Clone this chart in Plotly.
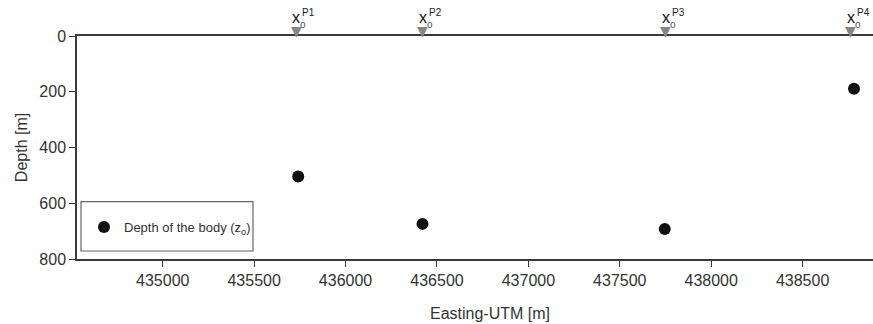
import plotly.graph_objects as go

# Data
easting = [435741, 436421, 437746, 438781]
depth = [504, 674, 692, 189]
station_x = [435731, 436421, 437752, 438763]
station_labels = ["P1", "P2", "P3", "P4"]
x_ticks = [435000, 435500, 436000, 436500, 437000, 437500, 438000, 438500]
y_ticks = [0, 200, 400, 600, 800]

W, H = 873, 324
ML, MT, MB, MR = 77, 36, 65, 0
x_range = [434531, 438885]
y_range = [800, 0]
plot_h = H - MT - MB

FONT = "Liberation Sans, Arial, sans-serif"
AX = "#3a3a3a"

fig = go.Figure()

fig.add_trace(go.Scatter(
    x=easting, y=depth, mode="markers",
    marker=dict(color="#111111", size=12),
    name="Depth of the body (z<sub>o</sub>)",
    showlegend=True,
))

annotations = []
for sx, lab in zip(station_x, station_labels):
    annotations.append(dict(x=sx, y=0, xref="x", yref="y", text="▼",
                            showarrow=False, font=dict(family="DejaVu Sans", size=14, color="#858585"),
                            xanchor="center", yanchor="middle", yshift=5))
    annotations.append(dict(x=sx, y=0, xref="x", yref="y", text="x",
                            showarrow=False, font=dict(family=FONT, size=16, color="#111"),
                            xanchor="center", yanchor="middle", yshift=19, xshift=0))
    annotations.append(dict(x=sx, y=0, xref="x", yref="y", text=lab,
                            showarrow=False, font=dict(family=FONT, size=10, color="#222"),
                            xanchor="left", yanchor="middle", yshift=24, xshift=4))
    annotations.append(dict(x=sx, y=0, xref="x", yref="y", text="o",
                            showarrow=False, font=dict(family=FONT, size=10, color="#555"),
                            xanchor="left", yanchor="middle", yshift=12, xshift=2))

annotations.append(dict(x=(490 - ML) / (W - ML - MR), y=(H - MB - 313) / plot_h,
                        xref="paper", yref="paper", text="Easting-UTM [m]",
                        showarrow=False, font=dict(family=FONT, size=16, color="#333"),
                        xanchor="center", yanchor="middle"))

fig.update_layout(
    width=W, height=H,
    margin=dict(l=ML, r=MR, t=MT, b=MB, pad=0),
    paper_bgcolor="white", plot_bgcolor="white",
    font=dict(family=FONT, size=16, color="#333"),
    annotations=annotations,
    shapes=[dict(type="rect", xref="paper", yref="paper",
                 x0=(81 - ML) / (W - ML - MR), x1=(253 - ML) / (W - ML - MR),
                 y0=(H - MB - 251) / plot_h, y1=(H - MB - 201.7) / plot_h,
                 line=dict(color="#666", width=1.2), fillcolor="rgba(0,0,0,0)")],
    legend=dict(x=(84 - ML) / (W - ML - MR), y=(H - MB - 227) / plot_h,
                xanchor="left", yanchor="middle",
                bgcolor="rgba(0,0,0,0)", borderwidth=0,
                font=dict(family=FONT, size=13, color="#333")),
    xaxis=dict(range=x_range, tickvals=x_ticks, ticktext=[str(v) for v in x_ticks],
               showgrid=False, zeroline=False, showline=True, linecolor=AX, linewidth=1.5,
               mirror=True, ticks="outside", ticklen=6, tickwidth=1.2, tickcolor=AX,
               tickfont=dict(family=FONT, size=16, color="#333")),
    yaxis=dict(range=y_range, tickvals=y_ticks, showgrid=False, zeroline=False,
               showline=True, linecolor=AX, linewidth=1.5, ticks="outside", ticklen=6,
               tickwidth=1.2, tickcolor=AX,
               tickfont=dict(family=FONT, size=16, color="#333"),
               title=dict(text="Depth [m]", font=dict(family=FONT, size=16, color="#333"),
                          standoff=8)),
)

fig.write_html("out.html")
